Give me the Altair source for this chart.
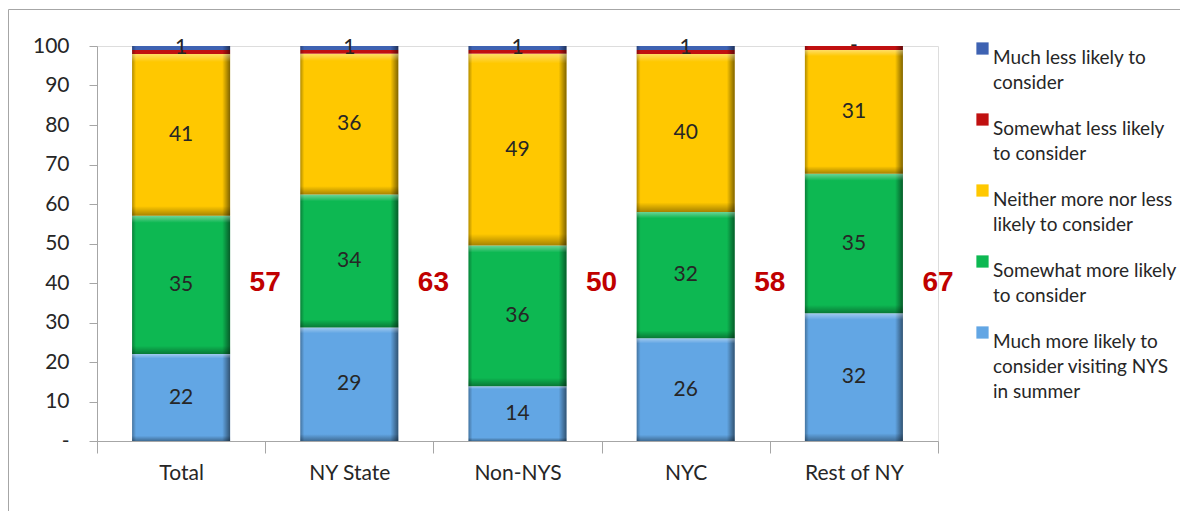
import altair as alt
import pandas as pd

categories = ["Total", "NY State", "Non-NYS", "NYC", "Rest of NY"]
series_keys = ["much_more", "somewhat_more", "neither", "somewhat_less", "much_less"]
series_names = [
    "Much more likely to\nconsider visiting NYS\nin summer",
    "Somewhat more likely\nto consider",
    "Neither more nor less\nlikely to consider",
    "Somewhat less likely\nto consider",
    "Much less likely to\nconsider",
]
much_more = [22, 29, 14, 26, 32]
somewhat_more = [35, 34, 36, 32, 35]
neither = [41, 36, 49, 40, 31]
somewhat_less = [1, 1, 1, 1, 1]
much_less = [1, 1, 1, 1, 0]
net_more = [57, 63, 50, 58, 67]
y_ticks = [0, 10, 20, 30, 40, 50, 60, 70, 80, 90, 100]
colors = ["#62A6E4", "#0DB852", "#FFC800", "#C01010", "#3E62B2"]

values = [much_more, somewhat_more, neither, somewhat_less, much_less]
rows = []
for si, (key, name, vals) in enumerate(zip(series_keys, series_names, values)):
    for ci, cat in enumerate(categories):
        rows.append({"cat": cat, "series": name, "key": key, "order": si, "value": vals[ci]})
df = pd.DataFrame(rows)
net_df = pd.DataFrame({"cat": categories, "net": net_more})

FONT = "Lato"
TXT = "#262626"
AX = "#A6A6A6"

x_enc = alt.X("cat:N", sort=categories, title=None,
              scale=alt.Scale(paddingInner=0, paddingOuter=0),
              axis=alt.Axis(labelAngle=0, tickBand="extent", tickSize=12, labelPadding=9,
                            labelFont=FONT, labelFontSize=21, labelColor=TXT,
                            domainColor=AX, tickColor=AX, grid=False))
y_scale = alt.Scale(domain=[0, 1], nice=False)
y_axis = alt.Axis(values=[t / 100 for t in y_ticks],
                  labelExpr="datum.value < 0.001 ? '-' : '' + round(datum.value * 100)",
                  labelOverlap=False, tickSize=8, labelPadding=20, grid=False,
                  labelFont=FONT, labelFontSize=21, labelColor=TXT,
                  domainColor=AX, tickColor=AX, title=None)

base = alt.Chart(df).transform_stack(
    stack="value", groupby=["cat"], as_=["y0", "y1"], offset="normalize",
    sort=[alt.SortField("order", order="ascending")]
).transform_calculate(mid="(datum.y0 + datum.y1) / 2")

legend_order = list(reversed(series_names))
legend_colors = list(reversed(colors))

y_bar = alt.Y("y0:Q", scale=y_scale, axis=y_axis, title=None)

bars = base.mark_bar(size=98).encode(
    x=x_enc,
    y=y_bar,
    y2="y1:Q",
    color=alt.Color("series:N", scale=alt.Scale(domain=legend_order, range=legend_colors),
                    legend=alt.Legend(title=None, orient="none", legendX=876, legendY=-7,
                                      labelExpr="split(datum.label, '\\n')",
                                      labelFont=FONT, labelFontSize=19, labelColor=TXT,
                                      labelBaseline="top", labelLimit=300,
                                      symbolType="square", symbolSize=150,
                                      symbolStrokeWidth=0, symbolOpacity=1,
                                      rowPadding=17, labelOffset=1)),
    order=alt.Order("order:Q"),
)

side_shade = base.mark_bar(size=98, color=alt.Gradient(
    gradient="linear", x1=0, x2=1, y1=0, y2=0,
    stops=[alt.GradientStop(color="rgba(0,0,0,0.30)", offset=0),
           alt.GradientStop(color="rgba(0,0,0,0.0)", offset=0.04),
           alt.GradientStop(color="rgba(0,0,0,0.0)", offset=0.92),
           alt.GradientStop(color="rgba(0,0,0,0.5)", offset=1)])).encode(
    x=x_enc, y=y_bar, y2="y1:Q")

top_shade = base.mark_bar(size=98, color=alt.Gradient(
    gradient="linear", x1=0, x2=0, y1=0, y2=1,
    stops=[alt.GradientStop(color="rgba(255,255,255,0.4)", offset=0),
           alt.GradientStop(color="rgba(255,255,255,0.0)", offset=0.05),
           alt.GradientStop(color="rgba(0,0,0,0.0)", offset=0.94),
           alt.GradientStop(color="rgba(0,0,0,0.35)", offset=1)])).encode(
    x=x_enc, y=y_bar, y2="y1:Q")

seg_labels = base.transform_filter("datum.key != 'somewhat_less'").transform_calculate(
    lab="datum.value == 0 ? '-' : format(datum.value, 'd')"
).mark_text(font=FONT, fontSize=21, color=TXT).encode(
    x=x_enc, y=alt.Y("mid:Q", scale=y_scale, axis=y_axis, title=None), text="lab:N")

net_labels = alt.Chart(net_df).mark_text(
    font="Liberation Sans", fontSize=28, fontWeight="bold", color="#C00000"
).encode(
    x=alt.X("cat:N", sort=categories, bandPosition=1, title=None,
            scale=alt.Scale(paddingInner=0, paddingOuter=0)),
    y=alt.datum(0.40, scale=y_scale, axis=y_axis, title=None),
    text="net:Q",
)

border = alt.Chart(pd.DataFrame({"b": [0]})).mark_rect(
    fill=None, stroke="#A6A6A6", strokeWidth=1
).encode(x=alt.value(-88.5), x2=alt.value(1200), y=alt.value(-36.5), y2=alt.value(1000))

chart = alt.layer(border, bars, side_shade, top_shade, seg_labels, net_labels).properties(
    width=841, height=395,
    autosize=alt.AutoSizeParams(type="none"),
    padding={"left": 89, "top": 38, "right": 242, "bottom": 70},
).configure_view(stroke=None).configure(
    background="white",
    style={"guide-label": {"lineHeight": 25}},
)

chart.save("out.html", embed_options={"renderer": "svg", "actions": False})
